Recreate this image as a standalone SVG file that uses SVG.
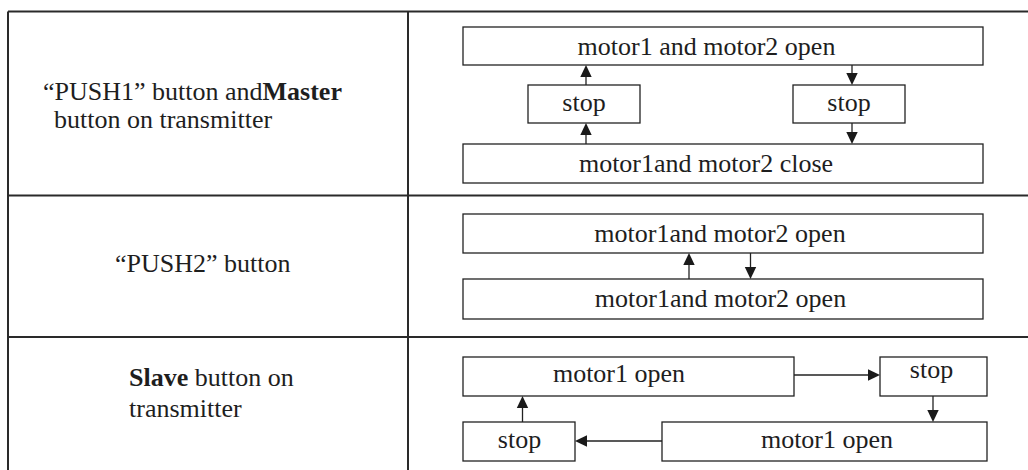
<svg xmlns="http://www.w3.org/2000/svg" width="1028" height="470" viewBox="0 0 1028 470">
  <style>
    .grid { stroke: #2a2a2a; stroke-width: 2; fill: none; }
    .box { fill: #ffffff; stroke: #222222; stroke-width: 1.3; }
    .wire { stroke: #222222; stroke-width: 1.3; fill: none; }
    .head { fill: #1a1a1a; stroke: none; }
  </style>
  <rect width="1028" height="470" fill="#ffffff"/>

  <!-- table rules -->
  <g id="table" class="grid">
    <line x1="8" y1="11.5" x2="1028" y2="11.5"/>
    <line x1="8" y1="11.5" x2="8" y2="470"/>
    <line x1="408" y1="11.5" x2="408" y2="470"/>
    <line x1="8" y1="195.5" x2="1028" y2="195.5"/>
    <line x1="8" y1="337" x2="1028" y2="337"/>
  </g>

  <!-- row 1: master sequence -->
  <g id="r1-open">
    <rect class="box" x="463" y="27" width="520" height="38"/>
    <text font-family="Liberation Serif" font-weight="400" font-size="26" fill="#1e1e1e" text-anchor="middle" x="706.5" y="54.5">motor1 and motor2 open</text>
  </g>
  <g id="r1-stop-left">
    <rect class="box" x="528" y="85" width="112" height="38"/>
    <text font-family="Liberation Serif" font-weight="400" font-size="26" fill="#1e1e1e" text-anchor="middle" x="584" y="111">stop</text>
  </g>
  <g id="r1-stop-right">
    <rect class="box" x="793" y="85" width="112" height="38"/>
    <text font-family="Liberation Serif" font-weight="400" font-size="26" fill="#1e1e1e" text-anchor="middle" x="849" y="111">stop</text>
  </g>
  <g id="r1-close">
    <rect class="box" x="463" y="144" width="520" height="39"/>
    <text font-family="Liberation Serif" font-weight="400" font-size="26" fill="#1e1e1e" text-anchor="middle" x="706" y="171.5">motor1and motor2 close</text>
  </g>

  <!-- row 2: push2 toggle -->
  <g id="r2-upper">
    <rect class="box" x="463" y="214" width="520" height="39"/>
    <text font-family="Liberation Serif" font-weight="400" font-size="26" fill="#1e1e1e" text-anchor="middle" x="720" y="241.5">motor1and motor2 open</text>
  </g>
  <g id="r2-lower">
    <rect class="box" x="463" y="279" width="520" height="40"/>
    <text font-family="Liberation Serif" font-weight="400" font-size="26" fill="#1e1e1e" text-anchor="middle" x="720.5" y="307">motor1and motor2 open</text>
  </g>

  <!-- row 3: slave cycle -->
  <g id="r3-open-a">
    <rect class="box" x="463" y="357" width="331" height="39"/>
    <text font-family="Liberation Serif" font-weight="400" font-size="26" fill="#1e1e1e" text-anchor="middle" x="619" y="382">motor1 open</text>
  </g>
  <g id="r3-stop-a">
    <rect class="box" x="880" y="357" width="107" height="39"/>
    <text font-family="Liberation Serif" font-weight="400" font-size="26" fill="#1e1e1e" text-anchor="middle" x="931.5" y="378">stop</text>
  </g>
  <g id="r3-open-b">
    <rect class="box" x="662" y="422" width="325" height="39"/>
    <text font-family="Liberation Serif" font-weight="400" font-size="26" fill="#1e1e1e" text-anchor="middle" x="827" y="448">motor1 open</text>
  </g>
  <g id="r3-stop-b">
    <rect class="box" x="463" y="422" width="112" height="39"/>
    <text font-family="Liberation Serif" font-weight="400" font-size="26" fill="#1e1e1e" text-anchor="middle" x="519.5" y="448">stop</text>
  </g>

  <!-- left column: triggering buttons -->
  <g id="cond-push1">
    <text font-family="Liberation Serif" font-weight="400" font-size="26" fill="#1e1e1e" x="43" y="100">“PUSH1”  button and<tspan font-weight="700">Master</tspan></text>
    <text font-family="Liberation Serif" font-weight="400" font-size="26" fill="#1e1e1e" x="54" y="128"> button on transmitter</text>
  </g>
  <g id="cond-push2">
    <text font-family="Liberation Serif" font-weight="400" font-size="26" fill="#1e1e1e" x="115" y="271.5">“PUSH2” button</text>
  </g>
  <g id="cond-slave">
    <text font-family="Liberation Serif" font-weight="400" font-size="26" fill="#1e1e1e" x="129" y="385.5"><tspan font-weight="700">Slave</tspan> button on</text>
    <text font-family="Liberation Serif" font-weight="400" font-size="26" fill="#1e1e1e" x="129" y="416.5">transmitter</text>
  </g>

  <!-- connectors: shaft plus filled head -->
  <g id="connectors">
    <line class="wire" x1="586" y1="144" x2="586" y2="134"/>
    <polygon class="head" points="586,123 580.3,135 591.7,135"/>
    <line class="wire" x1="586" y1="85" x2="586" y2="76"/>
    <polygon class="head" points="586,65 580.3,77 591.7,77"/>
    <line class="wire" x1="852" y1="65" x2="852" y2="74"/>
    <polygon class="head" points="852,85 846.3,73 857.7,73"/>
    <line class="wire" x1="852" y1="123" x2="852" y2="133"/>
    <polygon class="head" points="852,144 846.3,132 857.7,132"/>
    <line class="wire" x1="689" y1="279" x2="689" y2="264"/>
    <polygon class="head" points="689,253 683.3,265 694.7,265"/>
    <line class="wire" x1="750.5" y1="253" x2="750.5" y2="268"/>
    <polygon class="head" points="750.5,279 744.8,267 756.2,267"/>
    <line class="wire" x1="794" y1="375" x2="869" y2="375"/>
    <polygon class="head" points="880,375 868,369.3 868,380.7"/>
    <line class="wire" x1="933" y1="396" x2="933" y2="411"/>
    <polygon class="head" points="933,422 927.3,410 938.7,410"/>
    <line class="wire" x1="662" y1="441" x2="586" y2="441"/>
    <polygon class="head" points="575,441 587,435.3 587,446.7"/>
    <line class="wire" x1="522.5" y1="422" x2="522.5" y2="407"/>
    <polygon class="head" points="522.5,396 516.8,408 528.2,408"/>
  </g>
</svg>
